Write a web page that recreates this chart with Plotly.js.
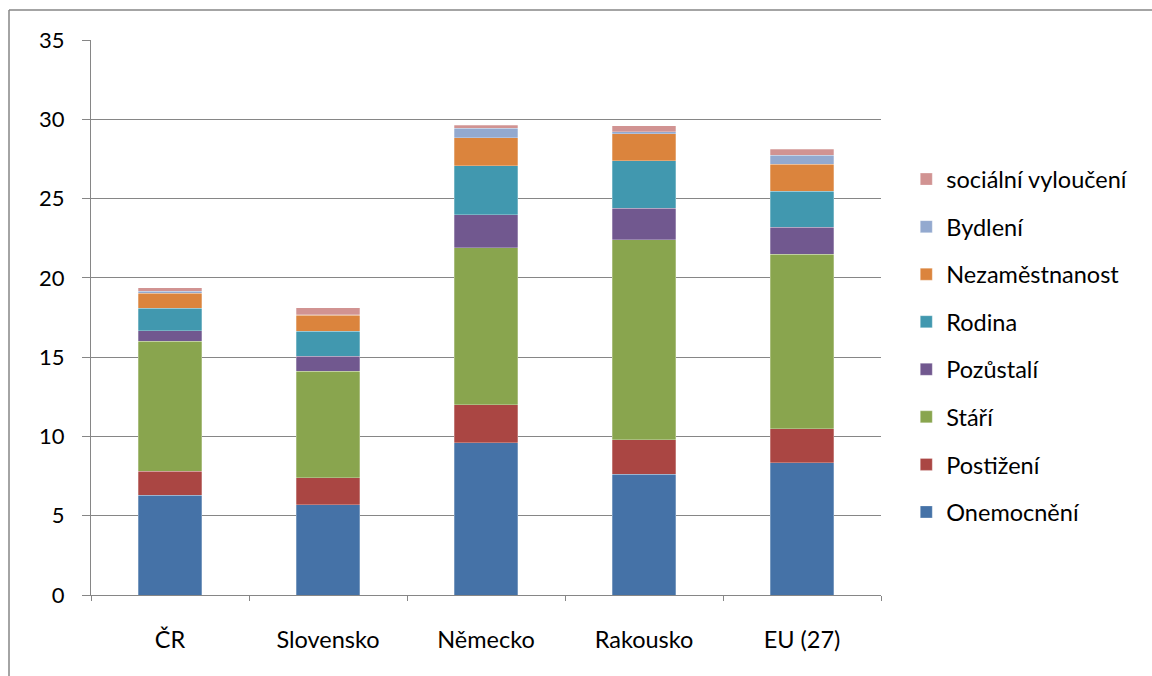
<!DOCTYPE html>
<html>
<head>
<meta charset="utf-8">
<script src="https://cdn.plot.ly/plotly-3.0.1.min.js"></script>
<style>html,body{margin:0;padding:0;background:#fff;}#chart{width:1152px;height:676px;}</style>
</head>
<body>
<div id="chart"></div>
<script>
const categories = ['ČR', 'Slovensko', 'Německo', 'Rakousko', 'EU (27)'];
const seriesNames = ['Onemocnění', 'Postižení', 'Stáří', 'Pozůstalí', 'Rodina', 'Nezaměstnanost', 'Bydlení', 'sociální vyloučení'];
const onemocneni = [6.3, 5.7, 9.6, 7.6, 8.35];
const postizeni = [1.5, 1.7, 2.4, 2.2, 2.15];
const stari = [8.2, 6.7, 9.9, 12.6, 11.0];
const pozustali = [0.68, 0.97, 2.07, 2.0, 1.7];
const rodina = [1.4, 1.57, 3.1, 3.0, 2.26];
const nezamestnanost = [0.96, 1.0, 1.78, 1.7, 1.7];
const bydleni = [0.11, 0.03, 0.6, 0.13, 0.57];
const socialni = [0.24, 0.46, 0.18, 0.36, 0.38];
const colors = ['#4572A7', '#AA4643', '#89A54E', '#71588F', '#4198AF', '#DB843D', '#93A9CF', '#D19392'];
const allSeries = [onemocneni, postizeni, stari, pozustali, rodina, nezamestnanost, bydleni, socialni];

const traces = allSeries.map((vals, i) => ({
  type: 'bar',
  name: seriesNames[i],
  x: categories,
  y: vals,
  legendgroup: 'g' + i,
  legendrank: 100 - i,
  marker: {color: colors[i], line: {color: 'rgba(255,255,255,0.45)', width: 0.6}},
  hoverinfo: 'name+y'
}));

const gray = '#868686';
const layout = {
  width: 1152, height: 676,
  margin: {l: 91, r: 271, t: 40, b: 81, pad: 0},
  barmode: 'stack',
  bargap: 0.6,
  paper_bgcolor: '#ffffff',
  plot_bgcolor: '#ffffff',
  font: {family: 'Lato, "Open Sans", sans-serif', size: 23, color: '#000'},
  xaxis: {
    type: 'category',
    showgrid: false,
    showline: true, linecolor: gray, linewidth: 1,
    ticks: 'outside', ticklen: 5, tickcolor: gray, tickson: 'boundaries',
    ticklabelstandoff: 24,
    tickfont: {size: 23.5}
  },
  yaxis: {
    range: [0, 35], dtick: 5,
    showgrid: true, gridcolor: gray, gridwidth: 1,
    showline: true, linecolor: gray, linewidth: 1,
    ticks: 'outside', ticklen: 8, tickcolor: gray,
    ticklabelstandoff: 13,
    zeroline: false,
    tickfont: {size: 22}
  },
  legend: {
    x: 1.032, xanchor: 'left', y: 0.449, yanchor: 'middle',
    traceorder: 'grouped',
    tracegroupgap: 14,
    font: {size: 23.5},
    bgcolor: 'rgba(0,0,0,0)'
  },
  shapes: [
    {type: 'line', xref: 'paper', yref: 'paper', x0: -0.1038, x1: -0.1038, y0: 1.054, y1: -0.2, line: {color: gray, width: 1.5}},
    {type: 'line', xref: 'paper', yref: 'paper', x0: -0.1038, x1: 1.4, y0: 1.054, y1: 1.054, line: {color: gray, width: 1.5}}
  ],
  showlegend: true
};

Plotly.newPlot('chart', traces, layout, {displayModeBar: false, staticPlot: true});
</script>
</body>
</html>
